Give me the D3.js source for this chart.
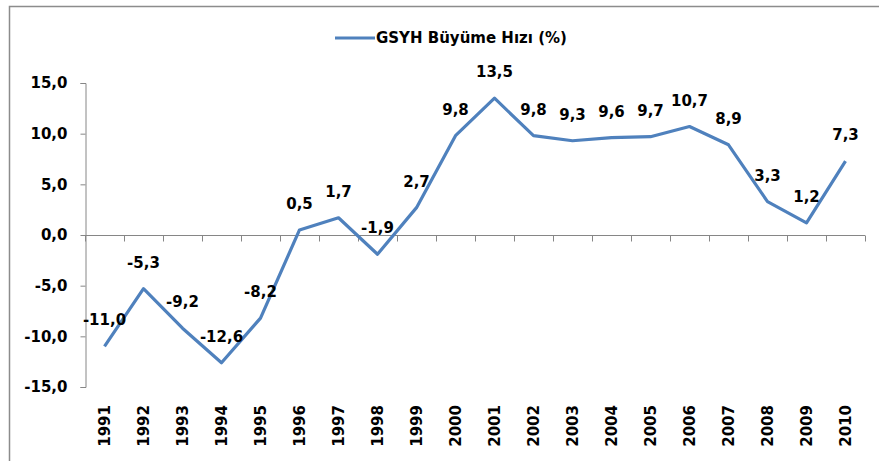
<!DOCTYPE html>
<html>
<head>
<meta charset="utf-8">
<script src="https://cdn.jsdelivr.net/npm/d3@7"></script>
<style>
  body { margin: 0; background: #fff; }
  text { font-family: "DejaVu Sans", sans-serif; font-weight: bold; fill: #000; }
</style>
</head>
<body>
<script>
// data
let years = ["1991","1992","1993","1994","1995","1996","1997","1998","1999","2000",
             "2001","2002","2003","2004","2005","2006","2007","2008","2009","2010"];
let growth = [-11.0, -5.3, -9.2, -12.6, -8.2, 0.5, 1.7, -1.9, 2.7, 9.8,
              13.5, 9.8, 9.3, 9.6, 9.7, 10.7, 8.9, 3.3, 1.2, 7.3];
let yTicks = [-15, -10, -5, 0, 5, 10, 15];
let seriesName = "GSYH Büyüme Hızı (%)";

let width = 879, height = 461;
let fmt = function(v){ return d3.format(".1f")(v).replace(".", ",").replace("−", "-"); };

let svg = d3.select("body").append("svg")
  .attr("width", width)
  .attr("height", height);

// outer chart border (right and bottom fall outside the picture)
svg.append("rect")
  .attr("x", 9.5).attr("y", 6.5)
  .attr("width", width + 10).attr("height", height + 10)
  .attr("fill", "none")
  .attr("stroke", "#8c8c8c")
  .attr("stroke-width", 1.5);

//scales
let x = d3.scaleBand().domain(years).range([85, 865]);
let y = d3.scaleLinear().domain([-15, 15]).range([387, 83]);

// y axis
let yAxis = d3.axisLeft(y)
  .tickValues(yTicks)
  .tickSize(5)
  .tickPadding(13)
  .tickFormat(fmt);
let gy = svg.append("g")
  .attr("transform", "translate(85.5,0)")
  .call(yAxis);
gy.select(".domain").attr("stroke", "#868686");
gy.selectAll(".tick line").attr("stroke", "#868686");
gy.selectAll(".tick text")
  .style("font-size", "15px")
  .style("font-family", "'DejaVu Sans', sans-serif")
  .style("font-weight", "bold");

// horizontal axis through zero, ticks between categories
let gx = svg.append("g").attr("transform", "translate(0," + (Math.round(y(0)) + 0.5) + ")");
gx.append("line")
  .attr("x1", x.range()[0]).attr("x2", x.range()[1])
  .attr("stroke", "#868686");
gx.selectAll("line.tk")
  .data(years.concat(["end"]))
  .enter().append("line")
  .attr("class", "tk")
  .attr("x1", function(d, i){ return Math.round(x.range()[0] + i * x.step()) + 0.5; })
  .attr("x2", function(d, i){ return Math.round(x.range()[0] + i * x.step()) + 0.5; })
  .attr("y1", 0).attr("y2", 6)
  .attr("stroke", "#868686");

// year labels at the bottom, rotated
svg.append("g").selectAll("text")
  .data(years)
  .enter().append("text")
  .attr("transform", function(d){ return "translate(" + (x(d) + x.bandwidth() / 2) + ",405) rotate(-90)"; })
  .attr("text-anchor", "end")
  .attr("dy", "0.36em")
  .style("font-size", "15px")
  .text(function(d){ return d; });

// the line
let line = d3.line()
  .x(function(d, i){ return x(years[i]) + x.bandwidth() / 2; })
  .y(function(d){ return y(d); });

svg.append("path")
  .datum(growth)
  .attr("d", line)
  .attr("fill", "none")
  .attr("stroke", "#4f81bd")
  .attr("stroke-width", 3.2)
  .attr("stroke-linejoin", "round");

// data labels above the points
svg.append("g").selectAll("text")
  .data(growth)
  .enter().append("text")
  .attr("x", function(d, i){ return x(years[i]) + x.bandwidth() / 2; })
  .attr("y", function(d){ return y(d) - 21; })
  .attr("text-anchor", "middle")
  .style("font-size", "15px")
  .text(fmt);

// legend
let leg = svg.append("g").attr("transform", "translate(335,38)");
leg.append("line")
  .attr("x1", 0).attr("x2", 40)
  .attr("stroke", "#4f81bd")
  .attr("stroke-width", 3.2);
leg.append("text")
  .attr("x", 41)
  .attr("dy", "0.36em")
  .style("font-size", "15px")
  .text(seriesName);
</script>
</body>
</html>
